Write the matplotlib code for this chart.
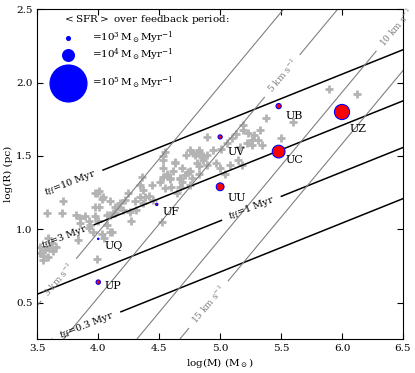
import numpy as np
import matplotlib
matplotlib.use("Agg")
import matplotlib.pyplot as plt

plt.rcParams['font.family'] = ['DejaVu Serif']
plt.rcParams['mathtext.fontset'] = 'dejavuserif'

# grey crosses: log(M), log(R)
cloud_logm = [3.71, 3.82, 3.85, 3.89, 3.85, 3.92, 3.93, 3.97, 4.00, 4.07, 4.14, 4.16, 4.10, 4.01,
              3.92, 3.96, 4.03, 4.10, 4.05, 3.99, 3.59, 3.62, 3.60, 3.56, 3.63, 3.55, 3.59, 3.52,
              3.65, 3.58, 3.70, 3.99, 3.55, 3.52, 3.83, 3.97, 4.01, 4.03, 3.97,
              4.63, 4.53, 4.56, 4.53, 4.59, 4.71, 4.69, 4.75, 4.67, 4.65, 4.51, 4.55, 4.60, 4.44,
              4.36, 4.34, 4.37, 4.38, 4.34, 4.30, 4.42, 4.45, 4.24, 4.22, 4.18, 4.20, 4.26, 4.31,
              4.27, 4.14, 4.12, 4.10, 4.07, 4.11, 4.04, 4.52, 4.37,
              4.53, 4.72, 4.81, 4.85, 4.89, 4.75, 4.83, 4.89, 4.67,
              4.75, 4.79, 4.83, 4.86, 4.94, 5.01, 5.06, 5.10, 5.13, 5.19, 5.16, 5.22, 5.15, 5.18,
              5.08, 5.00, 5.04, 4.55, 4.53, 4.63, 4.61, 4.69, 4.74, 4.77, 4.83, 4.89, 4.67, 4.59,
              4.56, 4.81, 4.86, 4.97, 4.83, 4.78,
              5.38, 5.60, 5.50, 5.19, 5.23, 5.28, 5.33, 5.26, 5.31, 5.26, 5.89, 6.12, 5.34]
cloud_logr = [1.19, 1.10, 1.08, 1.09, 1.04, 1.06, 1.03, 1.09, 1.06, 1.10, 1.11, 1.15, 1.19, 1.15,
              1.01, 0.98, 0.97, 0.98, 0.94, 0.80, 0.94, 0.91, 0.87, 0.86, 0.85, 0.82, 0.81, 0.88,
              0.88, 1.11, 1.11, 1.25, 0.79, 0.84, 0.93, 1.25, 1.26, 1.21, 1.15,
              1.45, 1.42, 1.37, 1.36, 1.35, 1.37, 1.32, 1.30, 1.29, 1.25, 1.32, 1.28, 1.29, 1.30,
              1.36, 1.30, 1.27, 1.22, 1.22, 1.19, 1.23, 1.20, 1.25, 1.20, 1.18, 1.13, 1.12, 1.13,
              1.06, 1.15, 1.11, 1.10, 1.03, 0.98, 1.22, 1.05, 1.18,
              1.50, 1.51, 1.52, 1.49, 1.51, 1.40, 1.43, 1.63, 1.34,
              1.54, 1.51, 1.54, 1.50, 1.54, 1.545, 1.59, 1.62, 1.65, 1.68, 1.56, 1.59, 1.47, 1.44,
              1.44, 1.42, 1.38, 1.53, 1.47, 1.46, 1.40, 1.42, 1.39, 1.35, 1.38, 1.44, 1.35, 1.34,
              1.38, 1.45, 1.47, 1.45, 1.53, 1.52,
              1.76, 1.73, 1.62, 1.71, 1.66, 1.64, 1.68, 1.61, 1.61, 1.575, 1.955, 1.92, 1.575]

# simulated clusters
names = ['UZ', 'UC', 'UB', 'UV', 'UU', 'UF', 'UQ', 'UP']
logm = [6.00, 5.48, 5.48, 5.00, 5.00, 4.48, 4.00, 4.00]
logr = [1.80, 1.53, 1.84, 1.63, 1.29, 1.17, 0.935, 0.64]
sfr = [1.7e4, 1.2e4, 2.0e3, 1.3e3, 4.5e3, 4.0e2, 1.5e2, 1.4e3]   # Msun/Myr
label_dx = [0.06, 0.06, 0.06, 0.06, 0.06, 0.05, 0.05, 0.05]
label_dy = [-0.135, -0.08, -0.09, -0.12, -0.095, -0.07, -0.07, -0.05]

legend_sfr = [1e3, 1e4, 1e5]
legend_text = [r'=10$^3\,$M$_\odot$Myr$^{-1}$', r'=10$^4\,$M$_\odot$Myr$^{-1}$',
               r'=10$^5\,$M$_\odot$Myr$^{-1}$']

tff_levels = [0.3, 1, 3, 10]   # Myr
vel_levels = [3, 5, 10, 15]    # km/s
G = 4.3e-3                     # pc (km/s)^2 / Msun

size_scale = 0.007             # points^2 per Msun/Myr

fig = plt.figure(figsize=(4.15, 3.73), dpi=100)
ax = fig.add_axes([0.0899, 0.0903, 0.8811, 0.8847])

ax.scatter(cloud_logm, cloud_logr, marker='+', s=32, linewidths=2, color='0.7', zorder=1)

mm, rr = np.meshgrid(np.linspace(3.4, 6.6, 400), np.linspace(0.15, 2.6, 400))
tff = 10 ** ((3 * rr - mm + 1.827) / 2)
vesc = np.sqrt(2 * G * 10 ** mm / 10 ** rr)

ct = ax.contour(mm, rr, tff, levels=tff_levels, colors='k', linewidths=1.1, zorder=2)
cv = ax.contour(mm, rr, vesc, levels=vel_levels, colors='0.5', linewidths=0.8, zorder=2)

tff_fmt = {0.3: r'$t_{\rm ff}$=0.3 Myr', 1: r'$t_{\rm ff}$=1 Myr',
           3: r'$t_{\rm ff}$=3 Myr', 10: r'$t_{\rm ff}$=10 Myr'}
vel_fmt = {v: '%d km s$^{-1}$' % v for v in vel_levels}
lt = ax.clabel(ct, fmt=tff_fmt, fontsize=7, inline=True,
               manual=[(3.89, 0.37), (5.23, 1.20), (3.70, 1.00), (3.77, 1.31)])
lv = ax.clabel(cv, fmt=vel_fmt, fontsize=6.5, inline=True,
               manual=[(3.67, 0.66), (5.49, 2.06), (6.41, 2.40), (4.90, 0.49)])
for t in list(lt) + list(lv):
    t.set_clip_on(False)

ax.scatter(logm, logr, s=np.array(sfr) * size_scale, facecolor='red', edgecolor='blue',
           linewidths=0.8, zorder=3)
for n, x, y, dx, dy in zip(names, logm, logr, label_dx, label_dy):
    ax.text(x + dx, y + dy, n, fontsize=8, zorder=4)

# size legend
ax.text(0.07, 0.968, r'$<$SFR$>$ over feedback period:', transform=ax.transAxes,
        fontsize=7.5, va='center')
for ypos, s, t in zip([0.913, 0.862, 0.777], legend_sfr, legend_text):
    ax.scatter([0.084], [ypos], s=s * size_scale, color='blue', transform=ax.transAxes,
               clip_on=False, zorder=5)
    ax.text(0.149, ypos, t, transform=ax.transAxes, fontsize=7.5, va='center')

ax.set_xlim(3.5, 6.5)
ax.set_ylim(0.25, 2.5)
ax.set_xticks([3.5, 4.0, 4.5, 5.0, 5.5, 6.0, 6.5])
ax.set_yticks([0.5, 1.0, 1.5, 2.0, 2.5])
ax.tick_params(direction='in', top=True, right=True, labelsize=7.5, length=4)
ax.set_xlabel(r'log(M) (M$_\odot$)', fontsize=7.5, labelpad=2)
ax.set_ylabel('log(R) (pc)', fontsize=7.5, labelpad=2)

fig.savefig('out.png', dpi=100)
